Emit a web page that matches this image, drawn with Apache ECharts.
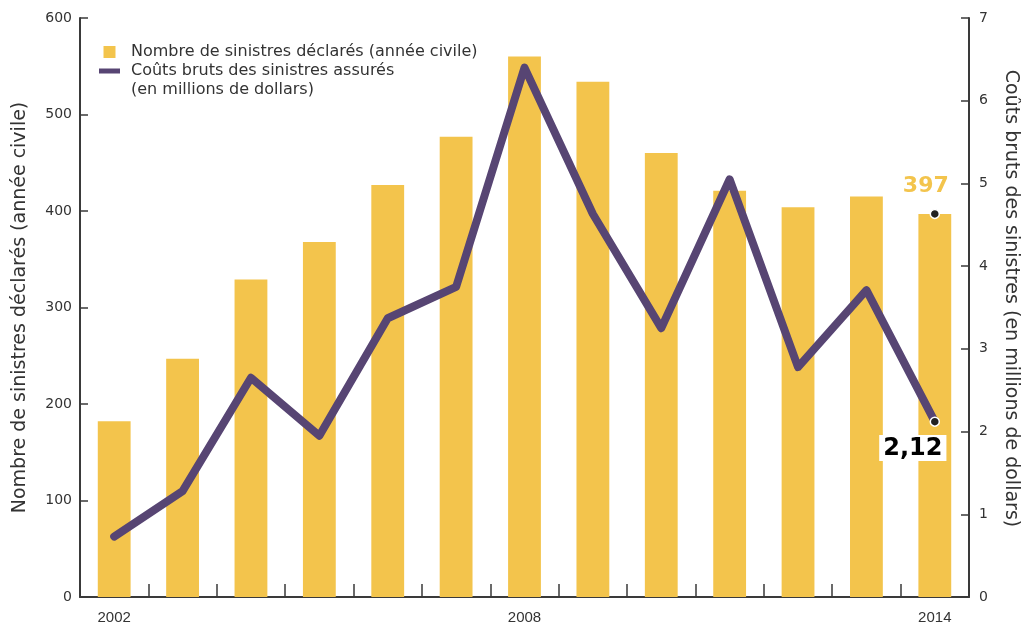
<!DOCTYPE html>
<html>
<head>
<meta charset="utf-8">
<script src="https://cdn.jsdelivr.net/npm/echarts@6/dist/echarts.min.js"></script>
<style>
  html, body { margin: 0; padding: 0; background: #fff; }
  #chart { width: 1021px; height: 625px; }
</style>
</head>
<body>
<div id="chart"></div>
<script>
// Années civiles
const years = ['2002', '2003', '2004', '2005', '2006', '2007', '2008', '2009', '2010', '2011', '2012', '2013', '2014'];
// Nombre de sinistres déclarés (année civile)
const claimCounts = [182, 247, 329, 368, 427, 477, 560, 534, 460, 421, 404, 415, 397];
// Coûts bruts des sinistres assurés (en millions de dollars)
const grossCosts = [0.73, 1.28, 2.65, 1.95, 3.37, 3.75, 6.40, 4.63, 3.25, 5.05, 2.78, 3.71, 2.12];
// Graduations des axes
const leftTicks = { min: 0, max: 600, step: 100 };
const rightTicks = { min: 0, max: 7, step: 1 };

const barName = 'Nombre de sinistres déclarés (année civile)';
const lineName = 'Coûts bruts des sinistres assurés';

const BAR = '#F3C44C';
const LINE = '#574573';
const AXIS = '#3a3a3a';
const FONT = '"DejaVu Sans", Verdana, sans-serif';

const chart = echarts.init(document.getElementById('chart'), null, { renderer: 'canvas' });

const lastIdx = years.length - 1;

chart.setOption({
  animation: false,
  grid: { left: 80, right: 52, top: 18, bottom: 28, containLabel: false, outerBoundsMode: 'none' },
  legend: {
    orient: 'vertical',
    left: 94,
    top: 39,
    itemWidth: 21,
    itemHeight: 12,
    itemGap: 3,
    selectedMode: false,
    textStyle: { fontFamily: FONT, fontSize: 16, color: '#333', padding: [0, 0, 0, 6] },
    data: [
      { name: barName, icon: 'path://M0,0h12v12h-12z' },
      { name: lineName, icon: 'path://M0,0h21v5h-21z' }
    ]
  },
  graphic: [{
    type: 'text',
    left: 131,
    top: 82,
    style: { text: '(en millions de dollars)', font: '16px ' + FONT, fill: '#333' }
  }],
  xAxis: {
    type: 'category',
    data: years,
    boundaryGap: true,
    axisLine: { lineStyle: { color: AXIS, width: 2 } },
    axisTick: { show: true, inside: true, length: 13, alignWithLabel: false, interval: 0, lineStyle: { color: AXIS, width: 1.5 } },
    axisLabel: { interval: 5, margin: 13, fontFamily: '"Liberation Sans", Arial, sans-serif', fontSize: 15, color: '#333' }
  },
  yAxis: [
    {
      type: 'value',
      min: leftTicks.min, max: leftTicks.max, interval: leftTicks.step,
      name: 'Nombre de sinistres déclarés (année civile)',
      nameLocation: 'middle',
      nameGap: 50,
      nameRotate: 90,
      nameTextStyle: { fontFamily: FONT, fontSize: 19, color: '#333' },
      axisLine: { show: true, lineStyle: { color: AXIS, width: 2 } },
      axisTick: { show: true, inside: true, length: 8, lineStyle: { color: AXIS, width: 1.5 } },
      axisLabel: { margin: 8, fontFamily: FONT, fontSize: 14, color: '#333' },
      splitLine: { show: false }
    },
    {
      type: 'value',
      position: 'right',
      min: rightTicks.min, max: rightTicks.max, interval: rightTicks.step,
      name: 'Coûts bruts des sinistres (en millions de dollars)',
      nameLocation: 'middle',
      nameGap: 32,
      nameRotate: -90,
      nameTextStyle: { fontFamily: FONT, fontSize: 19, color: '#333', padding: [0, 18, 0, 0] },
      axisLine: { show: true, lineStyle: { color: AXIS, width: 2 } },
      axisTick: { show: true, inside: true, length: 8, lineStyle: { color: AXIS, width: 1.5 } },
      axisLabel: { margin: 10, fontFamily: FONT, fontSize: 14, color: '#333' },
      splitLine: { show: false }
    }
  ],
  series: [
    {
      name: barName,
      type: 'bar',
      yAxisIndex: 0,
      data: claimCounts,
      barWidth: '48%',
      itemStyle: { color: BAR },
      markPoint: {
        symbol: 'circle',
        symbolSize: 9,
        itemStyle: { color: '#222', borderColor: '#fff', borderWidth: 1.5 },
        label: {
          show: true,
          formatter: String(claimCounts[lastIdx]),
          position: 'top',
          offset: [-9, -6],
          fontFamily: FONT,
          fontWeight: 'bold',
          fontSize: 22,
          color: BAR
        },
        data: [{ coord: [years[lastIdx], claimCounts[lastIdx]] }]
      }
    },
    {
      name: lineName,
      type: 'line',
      yAxisIndex: 1,
      data: grossCosts,
      symbol: 'none',
      lineStyle: { color: LINE, width: 8, cap: 'round', join: 'round' },
      itemStyle: { color: LINE },
      z: 3,
      markPoint: {
        symbol: 'circle',
        symbolSize: 9,
        itemStyle: { color: '#222', borderColor: '#fff', borderWidth: 1.5 },
        label: {
          show: true,
          formatter: String(grossCosts[lastIdx]).replace('.', ','),
          position: 'bottom',
          offset: [-22, 3],
          fontFamily: FONT,
          fontWeight: 'bold',
          fontSize: 24,
          color: '#000',
          backgroundColor: '#fff',
          padding: [2, 4, 0, 4]
        },
        data: [{ coord: [years[lastIdx], grossCosts[lastIdx]] }]
      }
    }
  ]
});
</script>
</body>
</html>
